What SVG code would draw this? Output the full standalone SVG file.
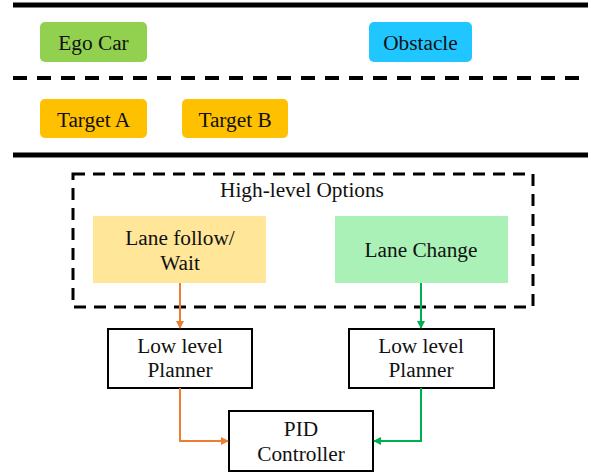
<svg xmlns="http://www.w3.org/2000/svg" width="591" height="474" viewBox="0 0 591 474" font-family="'Liberation Serif', 'DejaVu Serif', serif">
<style>
text{font-family:'Liberation Serif','DejaVu Serif',serif;font-size:21.3px;fill:#111;text-anchor:middle}
.road{stroke:#000;stroke-width:5}
.lane{stroke:#000;stroke-width:4;stroke-dasharray:14 10}
.box{fill:#fff;stroke:#000;stroke-width:2}
.or{fill:none;stroke:#ED7D31;stroke-width:2}
.gr{fill:none;stroke:#00B050;stroke-width:2}
</style>
<defs>
<marker id="ao" markerWidth="8" markerHeight="8" refX="7" refY="4" orient="auto" markerUnits="userSpaceOnUse"><path d="M0,0 L8,4 L0,8 Z" fill="#ED7D31"/></marker>
<marker id="ag" markerWidth="8" markerHeight="8" refX="7" refY="4" orient="auto" markerUnits="userSpaceOnUse"><path d="M0,0 L8,4 L0,8 Z" fill="#00B050"/></marker>
</defs>
<g id="road">
<line class="road" x1="13" y1="5" x2="588" y2="5"/>
<line class="lane" x1="13" y1="78" x2="588" y2="78"/>
<line class="road" x1="13" y1="155" x2="588" y2="155"/>
</g>
<g id="ego"><rect x="40" y="22" width="107" height="40" rx="5" fill="#92D050"/><text x="93.5" y="50">Ego Car</text></g>
<g id="obstacle"><rect x="369" y="22" width="103" height="40" rx="5" fill="#1FC6FF"/><text x="420.5" y="50">Obstacle</text></g>
<g id="targetA"><rect x="40" y="99" width="107" height="39" rx="5" fill="#FFC000"/><text x="93.5" y="127">Target A</text></g>
<g id="targetB"><rect x="182" y="99" width="106" height="39" rx="5" fill="#FFC000"/><text x="235" y="127">Target B</text></g>
<g id="options">
<rect x="73" y="174" width="460" height="133" fill="none" stroke="#000" stroke-width="3" stroke-dasharray="12 8"/>
<text x="302" y="197">High-level Options</text>
</g>
<g id="laneFollow"><rect x="93" y="216" width="173" height="67" fill="#FFE699"/><text x="180" y="245">Lane follow/</text><text x="180" y="270">Wait</text></g>
<g id="laneChange"><rect x="335" y="216" width="173" height="67" fill="#A9F1B6"/><text x="421" y="257">Lane Change</text></g>
<g id="plannerL"><rect class="box" x="108" y="329" width="144" height="59"/><text x="180" y="353">Low level</text><text x="180" y="377">Planner</text></g>
<g id="plannerR"><rect class="box" x="349" y="329" width="145" height="59"/><text x="421" y="353">Low level</text><text x="421" y="377">Planner</text></g>
<g id="pid"><rect class="box" x="229" y="411" width="144" height="60"/><text x="301" y="436">PID</text><text x="301" y="461">Controller</text></g>
<g id="connectors">
<path class="or" d="M180,283 V328" marker-end="url(#ao)"/>
<path class="gr" d="M421,283 V328" marker-end="url(#ag)"/>
<path class="or" d="M180,388 V441 H228" marker-end="url(#ao)"/>
<path class="gr" d="M421,388 V441 H374" marker-end="url(#ag)"/>
</g>
</svg>
